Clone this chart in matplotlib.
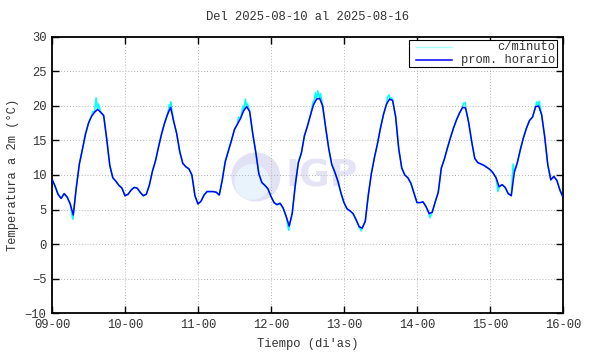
import matplotlib
matplotlib.use("Agg")
import matplotlib.pyplot as plt
from matplotlib.patches import Ellipse, Rectangle

# hourly mean temperature (degC), hours from 2025-08-09 00:00
horario = [
    9.4, 8.4, 7.2, 6.6, 7.3, 6.8, 5.8, 4.2, 8.2, 11.6, 13.7, 15.9,
    17.5, 18.5, 19.1, 19.5, 19.1, 18.6, 15.2, 11.4, 9.6, 9.1, 8.5, 8.1,
    7.0, 7.2, 7.8, 8.2, 8.1, 7.5, 7.0, 7.2, 8.5, 10.5, 12.0, 14.0,
    15.9, 17.5, 18.8, 19.8, 17.8, 16.0, 13.4, 11.7, 11.2, 10.9, 10.0, 7.0,
    5.8, 6.2, 7.1, 7.6, 7.6, 7.6, 7.5, 7.1, 9.3, 12.0, 13.5, 15.0,
    16.6, 17.4, 18.2, 19.3, 19.9, 19.2, 16.0, 13.3, 10.2, 8.9, 8.5, 8.0,
    6.9, 6.0, 5.7, 5.9, 5.2, 4.0, 2.6, 4.5, 8.6, 11.8, 13.2, 15.7,
    17.1, 18.7, 20.2, 21.0, 21.1, 20.0, 16.8, 13.8, 11.5, 10.4, 9.1, 7.4,
    6.0, 5.1, 4.8, 4.4, 3.5, 2.5, 2.3, 3.3, 7.1, 10.2, 12.5, 14.5,
    16.8, 18.8, 20.3, 21.0, 20.8, 18.4, 13.8, 11.0, 10.0, 9.6, 8.8, 7.4,
    6.0, 6.0, 6.1, 5.4, 4.4, 4.6, 6.1, 7.5, 11.0, 12.3, 13.9, 15.4,
    16.8, 18.0, 19.0, 19.8, 19.7, 17.6, 14.8, 12.4, 11.8, 11.6, 11.4, 11.1,
    10.8, 10.3, 9.6, 8.3, 8.6, 8.2, 7.3, 7.0, 10.4, 11.8, 13.7, 15.4,
    16.8, 17.9, 18.4, 19.9, 20.0, 18.7, 15.5, 11.5, 9.3, 9.8, 9.2, 7.8,
    6.8,
]
horas = list(range(len(horario)))

# minute readings that stand out from the hourly mean (hour, degC)
pico_t = [6.8, 12.6, 13.4, 14.5, 15.3, 38.6, 39.0, 56.2, 61.3, 62.8, 63.6,
          64.3, 77.8, 85.8, 86.6, 87.4, 88.3, 101.6, 110.3, 110.9, 111.6,
          124.2, 135.3, 135.9, 146.6, 151.6, 159.3, 160.2]
pico_v = [3.6, 18.2, 19.2, 21.2, 20.3, 20.2, 20.6, 10.2, 18.4, 20.0, 21.0,
          20.3, 2.0, 20.6, 21.9, 22.2, 21.8, 1.9, 21.3, 21.6, 21.2,
          3.8, 20.4, 20.5, 7.6, 11.6, 20.6, 20.7]

dias = ["09-00", "10-00", "11-00", "12-00", "13-00", "14-00", "15-00", "16-00"]

# merge hourly curve with the spike readings for the minute series
minuto = sorted(list(zip(horas, horario)) + list(zip(pico_t, pico_v)))
minuto_t = [p[0] for p in minuto]
minuto_v = [p[1] for p in minuto]

plt.rcParams['font.family'] = ['Liberation Mono', 'DejaVu Sans Mono']
fs = 8.7

fig = plt.figure(figsize=(5.9, 3.54), dpi=100)
ax = fig.add_axes([0.0881, 0.1158, 0.8661, 0.7797])

# watermark (axes is 511 x 276 px, so scale ellipse to look round)
ax.add_patch(Ellipse((0.399, 0.493), 0.096, 0.178, transform=ax.transAxes,
                     facecolor='#e2e2f4', edgecolor='none', zorder=0.5))
ax.add_patch(Ellipse((0.392, 0.475), 0.07, 0.13, transform=ax.transAxes,
                     facecolor='#e9f3fc', edgecolor='none', zorder=0.6))
ax.text(0.528, 0.493, "IGP", transform=ax.transAxes, family='DejaVu Sans',
        fontsize=27, fontweight='bold', color='#e4e4f5', ha='center',
        va='center', zorder=0.5)

ax.plot(minuto_t, minuto_v, color='#00ffff', lw=1.1, zorder=2)
ax.plot(horas, horario, color='#0000ff', lw=1.1, zorder=3)

ax.set_xlim(0, 168)
ax.set_ylim(-10, 30)
ax.set_xticks(range(0, 169, 24))
ax.set_xticklabels(dias)
ax.set_yticks(range(-10, 31, 5))
ax.tick_params(direction='in', length=5, width=1, top=True, right=True,
               labelsize=fs, labelcolor='#333333', pad=4)
ax.grid(True, color='#b4b4b4', linestyle=(0, (1, 2)), lw=0.7)
for s in ax.spines.values():
    s.set_linewidth(1.3)

ax.set_title("Del 2025-08-10 al 2025-08-16", fontsize=fs, color='#333333', pad=12)
ax.set_xlabel("Tiempo (di'as)", fontsize=fs, color='#333333', labelpad=5)
ax.set_ylabel("Temperatura a 2m (°C)", fontsize=fs, color='#333333', labelpad=4)

# legend drawn by hand (text right-aligned like the original)
ax.add_patch(Rectangle((0.699, 0.891), 0.289, 0.098, transform=ax.transAxes,
                       facecolor='white', edgecolor='black', lw=0.8, zorder=4))
ax.plot([0.713, 0.782], [0.963, 0.963], transform=ax.transAxes,
        color='#a8ffff', lw=1.0, zorder=5)
ax.plot([0.713, 0.782], [0.916, 0.916], transform=ax.transAxes,
        color='#0000ff', lw=1.1, zorder=5)
ax.text(0.985, 0.963, "c/minuto", transform=ax.transAxes, ha='right',
        va='center', fontsize=fs, color='#333333', zorder=5)
ax.text(0.985, 0.916, "prom. horario", transform=ax.transAxes, ha='right',
        va='center', fontsize=fs, color='#333333', zorder=5)

fig.savefig("out.png", dpi=100)
